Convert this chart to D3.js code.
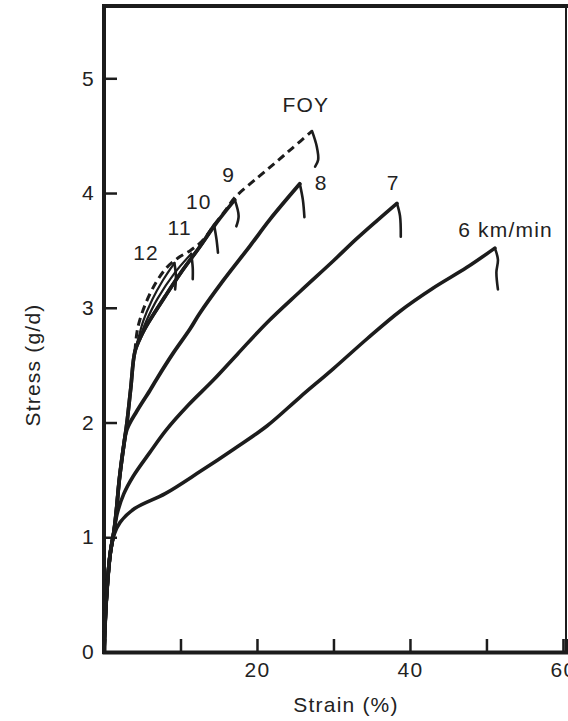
<!DOCTYPE html>
<html>
<head>
<meta charset="utf-8">
<script src="https://cdn.jsdelivr.net/npm/d3@7"></script>
<style>
  body { margin: 0; background: #fff; }
  svg { display: block; }
  text { font-family: "Liberation Sans", Arial, sans-serif; font-size: 21px; fill: #222; letter-spacing: 1.2px; }
</style>
</head>
<body>
<svg id="chart" width="568" height="721"></svg>
<script>
// Tick values
const yTicks = [0, 1, 2, 3, 4, 5];
const xTicks = [10, 20, 30, 40, 50, 60];
const xLabels = [20, 40, 60];

// Stress-strain curves: [strain %, stress g/d]
const curve6 = [[0, 0], [0.3, 0.45], [0.8, 0.85], [1.3, 1.02], [2.1, 1.13], [4, 1.25], [8, 1.38], [12.5, 1.57],
  [17, 1.77], [21.3, 1.97], [25.6, 2.22], [30, 2.47], [34.4, 2.73], [38.7, 2.97], [43, 3.17], [47.4, 3.35], [51.1, 3.52]];
const curve7 = [[0, 0], [0.3, 0.45], [0.8, 0.85], [1.3, 1.05], [1.7, 1.2], [2.6, 1.38], [3.8, 1.53], [6, 1.74],
  [8.2, 1.94], [11, 2.15], [14.3, 2.37], [17.5, 2.6], [21.3, 2.87], [25.6, 3.14], [30, 3.41], [33, 3.6], [35.7, 3.76], [38.3, 3.91]];
const curve8 = [[0, 0], [0.3, 0.45], [0.8, 0.85], [1.3, 1.05], [1.6, 1.22], [2, 1.5], [2.5, 1.76], [3, 1.94],
  [4.3, 2.1], [6, 2.28], [6.9, 2.38], [9, 2.6], [11.2, 2.81], [12.5, 2.95], [15.5, 3.23], [19.1, 3.54], [21.7, 3.77], [25.6, 4.08]];
const trunk = [[0, 0], [0.3, 0.45], [0.8, 0.85], [1.3, 1.05], [1.6, 1.22], [2, 1.5], [2.5, 1.76], [3, 2.0], [3.5, 2.3], [4.05, 2.62]];
const curve9 = trunk.concat([[4.9, 2.76], [5.8, 2.87], [8, 3.1], [10.2, 3.32], [12.5, 3.53], [14.5, 3.72], [16, 3.85], [17.1, 3.94]]);
const curve10 = trunk.concat([[4.9, 2.76], [5.8, 2.87], [8, 3.1], [10.2, 3.32], [12.5, 3.53], [14.4, 3.72]]);
const curve11 = trunk.concat([[4.8, 2.76], [5.5, 2.88], [7, 3.08], [9.2, 3.3], [11.4, 3.47]]);
const curve12 = trunk.concat([[4.6, 2.76], [5.1, 2.88], [6.3, 3.07], [7.7, 3.24], [9.2, 3.39]]);
const curveFoy = [[4.05, 2.62], [4.4, 2.82], [5.4, 3.03], [6.8, 3.22], [8.2, 3.35], [9.8, 3.44], [11.3, 3.5], [12.8, 3.58],
  [14.5, 3.73], [16, 3.86], [17.1, 3.96], [20, 4.13], [22.5, 4.27], [24.6, 4.39], [27.2, 4.54]];

// Break hooks after each peak
const tail6 = [[51.1, 3.52], [51.5, 3.42], [51.3, 3.31], [51.5, 3.16]];
const tail7 = [[38.3, 3.91], [38.7, 3.8], [38.8, 3.62]];
const tail8 = [[25.6, 4.08], [26.0, 3.94], [26.2, 3.79]];
const tailFoy = [[27.2, 4.54], [27.8, 4.41], [28.0, 4.29], [27.6, 4.23]];
const tail9 = [[17.1, 3.94], [17.6, 3.8], [17.3, 3.71]];
const tail10 = [[14.4, 3.72], [14.7, 3.6], [14.9, 3.48]];
const tail11 = [[11.4, 3.47], [11.6, 3.35], [11.6, 3.25]];
const tail12 = [[9.2, 3.39], [9.4, 3.28], [9.3, 3.16]];

// Curve labels and where they sit (strain, stress)
const labelText = ['FOY', '9', '10', '11', '12', '8', '7', '6 km/min'];
const labelAt = [[26.4, 4.71], [16.3, 4.1], [12.4, 3.86], [9.9, 3.63], [5.5, 3.42], [28.4, 4.03], [37.8, 4.03], [46.3, 3.62]];

const ink = '#1c1c1c';
const plotLeft = 104, plotRight = 566, plotTop = 6, plotBottom = 652;

const svg = d3.select('#chart');

const x = d3.scaleLinear().domain([0, 60.4]).range([plotLeft, plotRight]);
const y = d3.scaleLinear().domain([0, 5.63]).range([plotBottom, plotTop]);

// Frame
svg.append('path')
  .attr('d', `M${plotLeft},${plotBottom + 2}V${plotTop}H568`)
  .attr('fill', 'none')
  .attr('stroke', ink)
  .attr('stroke-width', 4);
svg.append('line')
  .attr('x1', plotRight).attr('x2', plotRight)
  .attr('y1', plotTop).attr('y2', plotBottom)
  .attr('stroke', ink)
  .attr('stroke-width', 2);

// Axes
const yAxis = svg.append('g')
  .attr('transform', `translate(${plotLeft},0)`)
  .call(d3.axisLeft(y).tickValues(yTicks).tickSize(-13).tickPadding(9).tickFormat(d3.format('d')));

const xAxis = svg.append('g')
  .attr('transform', `translate(0,${plotBottom})`)
  .call(d3.axisBottom(x).tickValues(xTicks).tickSize(-13).tickPadding(10)
    .tickFormat(d => xLabels.includes(d) ? d : ''));

[yAxis, xAxis].forEach(g => {
  g.attr('font-size', null).attr('font-family', null);
  g.select('.domain').attr('stroke', ink).attr('stroke-width', 4);
  g.selectAll('.tick line').attr('stroke', ink).attr('stroke-width', 2.5);
  g.selectAll('.tick text').attr('fill', null);
});
yAxis.select('.domain').remove();

// Axis titles
svg.append('text')
  .attr('x', 346).attr('y', 712)
  .attr('text-anchor', 'middle')
  .text('Strain (%)');
svg.append('text')
  .attr('transform', 'translate(40,365) rotate(-90)')
  .attr('text-anchor', 'middle')
  .text('Stress (g/d)');

// Curves
const line = d3.line()
  .x(d => x(d[0]))
  .y(d => y(d[1]))
  .curve(d3.curveCatmullRom.alpha(0.5));

const curves = [
  { pts: curve6, w: 3.6 },
  { pts: curve7, w: 3.6 },
  { pts: curve8, w: 3.8 },
  { pts: curve12, w: 2.2 },
  { pts: curve11, w: 2.2 },
  { pts: curve10, w: 3.6 },
  { pts: curve9, w: 3.6 }
];

svg.append('g')
  .selectAll('path')
  .data(curves)
  .join('path')
  .attr('d', d => line(d.pts))
  .attr('fill', 'none')
  .attr('stroke', ink)
  .attr('stroke-width', d => d.w)
  .attr('stroke-linecap', 'round')
  .attr('stroke-linejoin', 'round');

svg.append('path')
  .attr('d', line(curveFoy))
  .attr('fill', 'none')
  .attr('stroke', ink)
  .attr('stroke-width', 3)
  .attr('stroke-dasharray', '8,5');

// Break hooks
svg.append('g')
  .selectAll('path')
  .data([tail6, tail7, tail8, tailFoy, tail9, tail10, tail11, tail12])
  .join('path')
  .attr('d', d => line(d))
  .attr('fill', 'none')
  .attr('stroke', ink)
  .attr('stroke-width', 2.6)
  .attr('stroke-linecap', 'round');

// Curve labels
svg.append('g')
  .selectAll('text')
  .data(labelText)
  .join('text')
  .attr('x', (d, i) => x(labelAt[i][0]))
  .attr('y', (d, i) => y(labelAt[i][1]))
  .attr('text-anchor', d => d.length > 3 ? 'start' : 'middle')
  .text(d => d);
</script>
</body>
</html>
